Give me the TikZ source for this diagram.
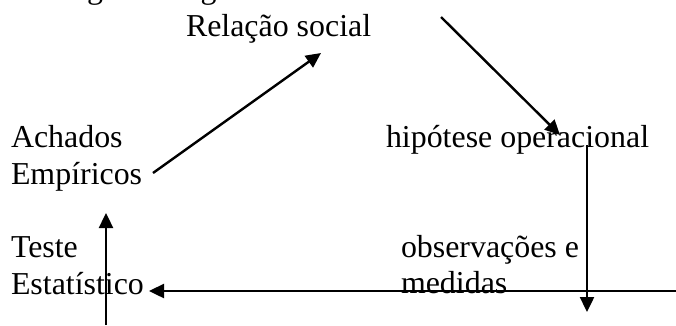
\documentclass[tikz,border=0pt]{standalone}
\usepackage{fontspec}
\setmainfont{Liberation Serif}
\usetikzlibrary{arrows.meta}
\tikzset{
  lbl/.style={anchor=base west, inner sep=0pt, outer sep=0pt, font=\fontsize{31.9}{36.7}\selectfont},
  conn/.style={line width=2.4pt, -{Triangle[length=15pt,width=14pt]}}
}
\begin{document}
\begin{tikzpicture}[x=1pt,y=-1pt]
\useasboundingbox (0,0) rectangle (676,325);
\begin{scope}
  \clip (0,0) rectangle (676,325);
  \node[lbl] (top) at (19,-1.5) {ver figura a seguir:};
\end{scope}
\node[lbl] (rel) at (186,36) {Relação social};
\node[lbl] (ach) at (11,147) {Achados};
\node[lbl] (emp) at (11,184) {Empíricos};
\node[lbl] (hip) at (386,147) {hipótese operacional};
\node[lbl] (tes) at (11,257) {Teste};
\node[lbl] (est) at (11,294) {Estatístico};
\node[lbl] (obs) at (401,257) {observações e};
\node[lbl] (med) at (401,293) {medidas};
\coordinate (a1s) at (153,173);
\coordinate (a1e) at (321,53);
\coordinate (a2s) at (441,17);
\coordinate (a2e) at (560,135);
\coordinate (a3s) at (587,145);
\coordinate (a3e) at (587,312);
\coordinate (a4s) at (676,291);
\coordinate (a4e) at (149,291);
\coordinate (a5s) at (106,325);
\coordinate (a5e) at (106,213);
\draw[conn] (a1s) -- (a1e);
\draw[conn] (a2s) -- (a2e);
\draw[conn] (a3s) -- (a3e);
\draw[conn] (a4s) -- (a4e);
\draw[conn] (a5s) -- (a5e);
\end{tikzpicture}
\end{document}
